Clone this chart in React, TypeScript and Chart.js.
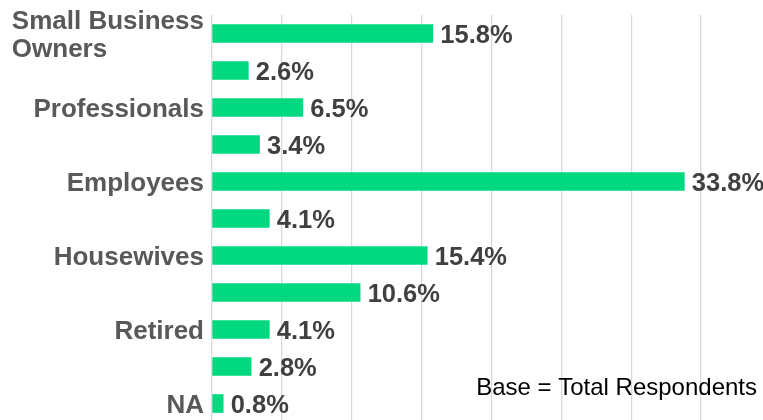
import React, { useEffect, useRef } from "react";
import { Chart, registerables } from "chart.js";

Chart.register(...registerables);

const categories: (string | string[])[] = [
  ["Small Business", "Owners"],
  "",
  "Professionals",
  "",
  "Employees",
  "",
  "Housewives",
  "",
  "Retired",
  "",
  "NA",
];
const values: number[] = [15.8, 2.6, 6.5, 3.4, 33.8, 4.1, 15.4, 10.6, 4.1, 2.8, 0.8];
const noteText = "Base = Total Respondents";

const FONT = '"Liberation Sans", Arial, sans-serif';

const labelPlugin = {
  id: "customLabels",
  afterDatasetsDraw(chart: any) {
    const ctx = chart.ctx as CanvasRenderingContext2D;
    const yScale = chart.scales.y;
    const area = chart.chartArea;
    ctx.save();
    // category labels
    ctx.font = `bold 26px ${FONT}`;
    ctx.fillStyle = "#595959";
    ctx.textAlign = "left";
    ctx.textBaseline = "alphabetic";
    const capHalf = 26 * 0.716 / 2;
    const lineH = 28;
    categories.forEach((lab, i) => {
      const lines = Array.isArray(lab) ? lab : [lab];
      if (!lines.join("")) return;
      const yc = yScale.getPixelForValue(i);
      const maxW = Math.max(...lines.map((l) => ctx.measureText(l).width));
      const x0 = area.left - 8 - maxW;
      const startY = yc - ((lines.length - 1) * lineH) / 2;
      lines.forEach((l, k) => {
        ctx.fillText(l, x0, startY + k * lineH + capHalf);
      });
    });
    // value labels
    ctx.font = `bold 25.5px ${FONT}`;
    const meta = chart.getDatasetMeta(0);
    ctx.fillStyle = "#404040";
    meta.data.forEach((bar: any, i: number) => {
      ctx.fillText(values[i].toFixed(1) + "%", bar.x + 7.5, bar.y + capHalf);
    });
    // note
    ctx.font = `24px ${FONT}`;
    ctx.fillStyle = "#000000";
    ctx.textAlign = "right";
    ctx.fillText(noteText, 757, 395);
    ctx.restore();
  },
};

export default function App() {
  const ref = useRef<HTMLCanvasElement | null>(null);
  useEffect(() => {
    if (!ref.current) return;
    const chart = new Chart(ref.current, {
      type: "bar",
      data: {
        labels: categories as any,
        datasets: [
          {
            data: values,
            backgroundColor: "#00D980",
            borderWidth: 0,
            barThickness: 18,
          },
        ],
      },
      options: {
        indexAxis: "y",
        responsive: false,
        animation: false,
        devicePixelRatio: 1,
        layout: { padding: { top: 15, bottom: 0, left: 0, right: 0 } },
        plugins: {
          legend: { display: false },
          tooltip: { enabled: false },
        },
        scales: {
          x: {
            min: 0,
            max: 40,
            ticks: { display: false, stepSize: 5 },
            grid: { color: "#d9d9d9", lineWidth: 1.3, drawTicks: false },
            border: { display: false },
          },
          y: {
            ticks: { display: false },
            grid: { display: false },
            border: { display: false },
            afterFit: (scale: any) => {
              scale.width = 212;
            },
          },
        },
      },
      plugins: [labelPlugin],
    });
    return () => chart.destroy();
  }, []);
  return (
    <div
      style={{
        position: "absolute",
        left: 0,
        top: 0,
        width: 763,
        height: 420,
        overflow: "hidden",
        background: "#fff",
      }}
    >
      <canvas ref={ref} width={771} height={422} style={{ display: "block" }} />
    </div>
  );
}
